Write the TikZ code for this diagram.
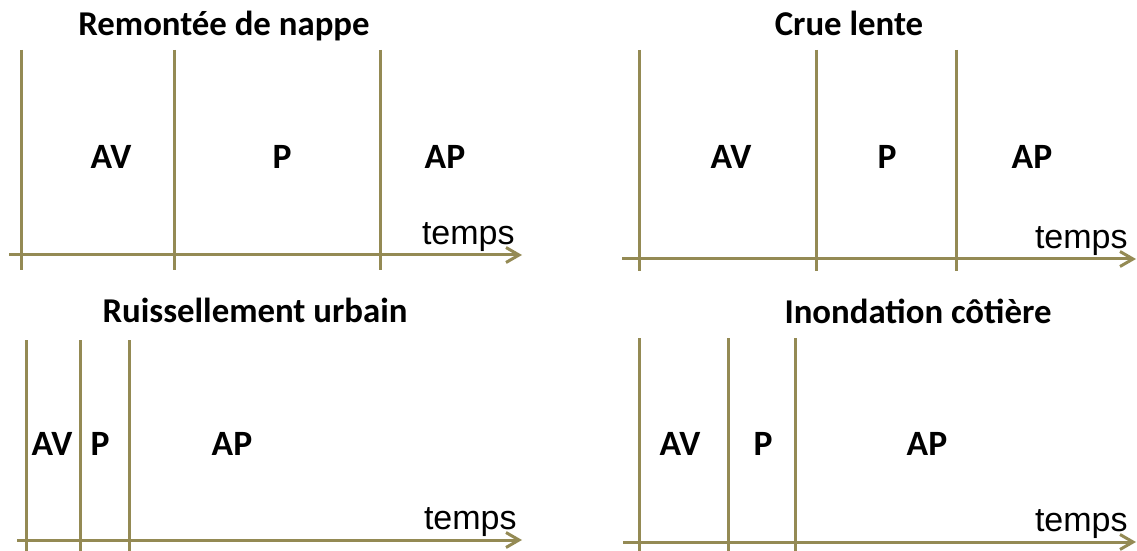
\documentclass[tikz,border=0pt]{standalone}
\usepackage{fontspec}
\setmainfont{Carlito}
\newfontfamily\arialfont{Liberation Sans}
\usetikzlibrary{arrows.meta}
\definecolor{axisolive}{RGB}{148,138,84}
\tikzset{
	phase/.style={draw=axisolive,line width=1.5pt},
	timeaxis/.style={draw=axisolive,line width=1.5pt,-{Straight Barb[length=6.5pt,width=7.5pt]}},
	paneltitle/.style={font=\bfseries\fontsize{17.4}{20}\selectfont,anchor=base,inner sep=0},
	phaselabel/.style={font=\bfseries\fontsize{17.8}{20}\selectfont,anchor=base,inner sep=0},
	timelabel/.style={font=\arialfont\fontsize{17}{20}\selectfont,anchor=base east,inner sep=0},
}
\begin{document}
\begin{tikzpicture}[x=0.5pt,y=-0.5pt]
	\useasboundingbox (0,0) rectangle (1137,551);
	\node[paneltitle] (nappe) at (224,36) {Remontée de nappe};
	\coordinate (nappe0) at (9,255);
	\coordinate (nappe1) at (522,255);
	\draw[phase] (21,50) -- (21,270);
	\draw[phase] (174,50) -- (174,270);
	\draw[phase] (380,50) -- (380,270);
	\draw[timeaxis] (nappe0) -- (nappe1);
	\node[phaselabel] (nappeAV) at (111,169) {AV};
	\node[phaselabel] (nappeP) at (282,169) {P};
	\node[phaselabel] (nappeAP) at (445,169) {AP};
	\node[timelabel] (nappeT) at (515,245) {temps};

	\node[paneltitle] (crue) at (849,36) {Crue lente};
	\coordinate (crue0) at (622,259);
	\coordinate (crue1) at (1136,259);
	\draw[phase] (639,50) -- (639,271);
	\draw[phase] (816,50) -- (816,271);
	\draw[phase] (956,50) -- (956,271);
	\draw[timeaxis] (crue0) -- (crue1);
	\node[phaselabel] (crueAV) at (731,169) {AV};
	\node[phaselabel] (crueP) at (887,169) {P};
	\node[phaselabel] (crueAP) at (1032,169) {AP};
	\node[timelabel] (crueT) at (1128,249) {temps};

	\node[paneltitle] (urbain) at (255,322) {Ruissellement urbain};
	\coordinate (urbain0) at (17,540);
	\coordinate (urbain1) at (522,540);
	\draw[phase] (26,340) -- (26,551);
	\draw[phase] (80,340) -- (80,551);
	\draw[phase] (129,340) -- (129,551);
	\draw[timeaxis] (urbain0) -- (urbain1);
	\node[phaselabel] (urbainAV) at (52,455) {AV};
	\node[phaselabel] (urbainP) at (100,455) {P};
	\node[phaselabel] (urbainAP) at (232,455) {AP};
	\node[timelabel] (urbainT) at (517,529) {temps};

	\node[paneltitle] (cotiere) at (918,323) {Inondation côtière};
	\coordinate (cotiere0) at (623,542);
	\coordinate (cotiere1) at (1136,542);
	\draw[phase] (639,338) -- (639,551);
	\draw[phase] (728,338) -- (728,551);
	\draw[phase] (795,338) -- (795,551);
	\draw[timeaxis] (cotiere0) -- (cotiere1);
	\node[phaselabel] (cotiereAV) at (680,455) {AV};
	\node[phaselabel] (cotiereP) at (763,455) {P};
	\node[phaselabel] (cotiereAP) at (927,455) {AP};
	\node[timelabel] (cotiereT) at (1128,531) {temps};
\end{tikzpicture}
\end{document}
